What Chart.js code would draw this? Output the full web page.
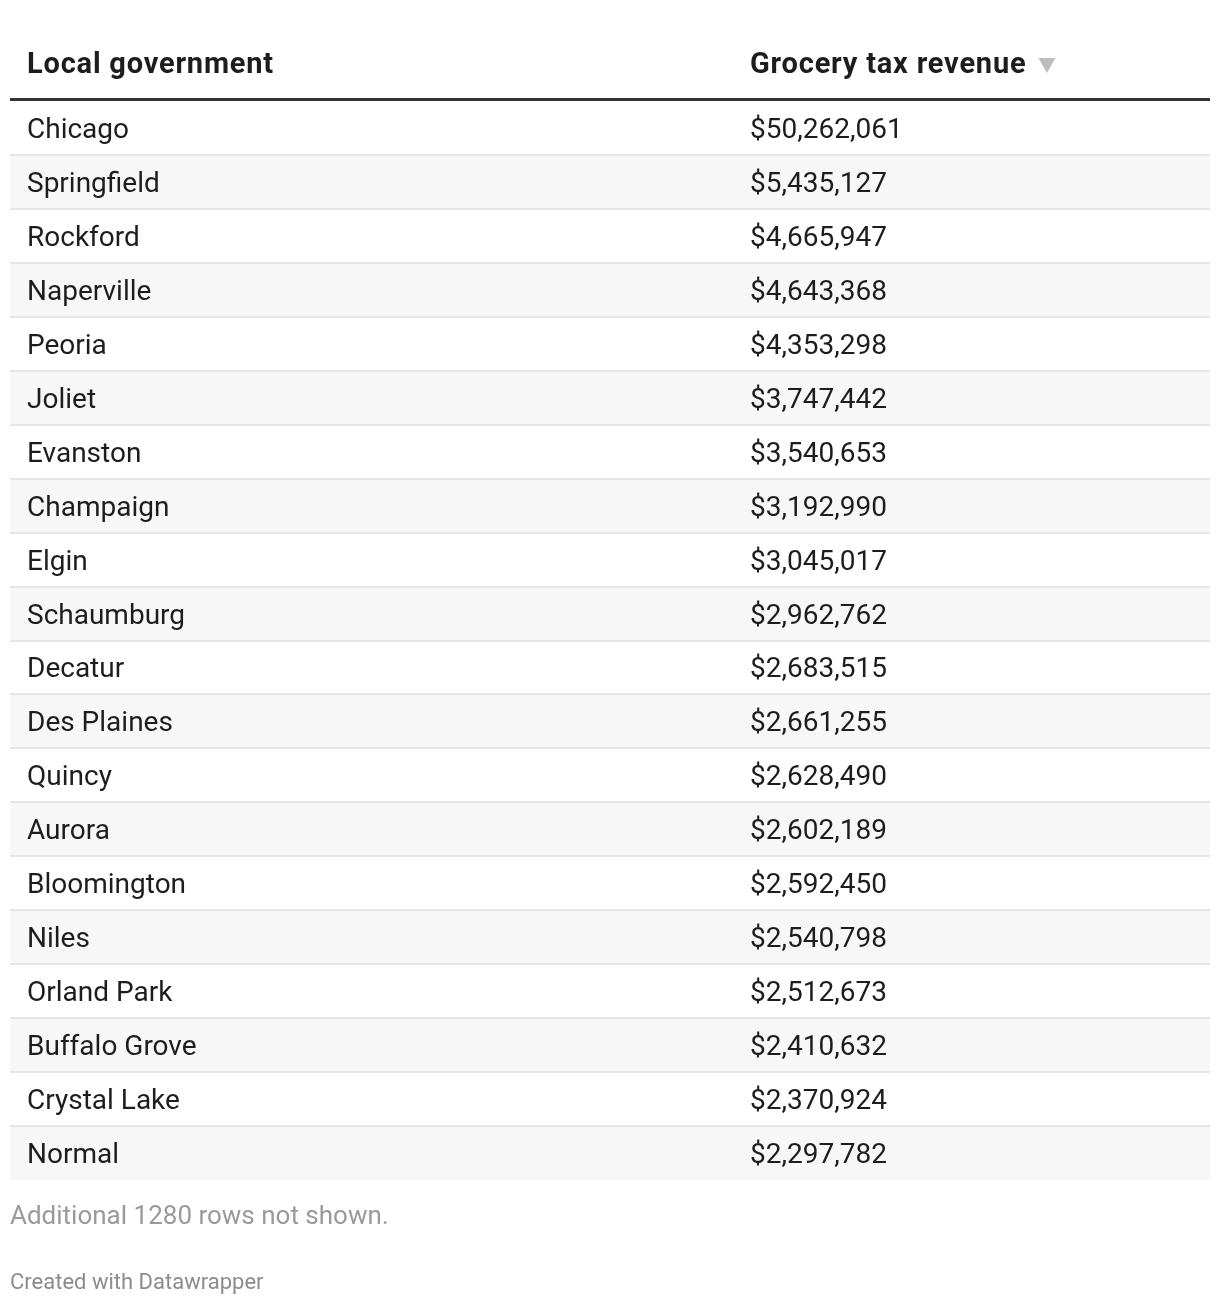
<!DOCTYPE html>
<html>
<head>
<meta charset="utf-8">
<script src="https://cdn.jsdelivr.net/npm/chart.js@4/dist/chart.umd.min.js"></script>
<style>
  html, body { margin: 0; padding: 0; background: #fff; }
  #table-chart { display: block; }
</style>
</head>
<body>
<canvas id="table-chart" width="1220" height="1306"></canvas>
<script>
// table content
const columnHeaders = ['Local government', 'Grocery tax revenue'];
const governments = [
  'Chicago', 'Springfield', 'Rockford', 'Naperville', 'Peoria',
  'Joliet', 'Evanston', 'Champaign', 'Elgin', 'Schaumburg',
  'Decatur', 'Des Plaines', 'Quincy', 'Aurora', 'Bloomington',
  'Niles', 'Orland Park', 'Buffalo Grove', 'Crystal Lake', 'Normal'
];
const revenue = [
  50262061, 5435127, 4665947, 4643368, 4353298,
  3747442, 3540653, 3192990, 3045017, 2962762,
  2683515, 2661255, 2628490, 2602189, 2592450,
  2540798, 2512673, 2410632, 2370924, 2297782
];
const notes = ['Additional 1280 rows not shown.', 'Created with Datawrapper'];

const FONT = 'Roboto, "Liberation Sans", sans-serif';
const COL1_X = 27;
const COL2_X = 750;

function formatMoney(v) {
  return '$' + v.toLocaleString('en-US');
}

const tablePlugin = {
  id: 'tableText',
  afterDatasetsDraw(chart) {
    const { ctx, chartArea, scales } = chart;
    const y = scales.y;
    ctx.save();

    // header
    ctx.fillStyle = '#1d1d1d';
    ctx.font = `bold 29px ${FONT}`;
    ctx.letterSpacing = '0.8px';
    ctx.textBaseline = 'alphabetic';
    ctx.fillText(columnHeaders[0], COL1_X, 73);
    ctx.fillText(columnHeaders[1], COL2_X, 73);
    const hw = ctx.measureText(columnHeaders[1]).width;
    ctx.letterSpacing = '0px';
    // sort arrow
    ctx.fillStyle = '#bdbdbd';
    const ax = COL2_X + hw + 12;
    ctx.beginPath();
    ctx.moveTo(ax, 58);
    ctx.lineTo(ax + 17, 58);
    ctx.lineTo(ax + 8.5, 73);
    ctx.closePath();
    ctx.fill();

    // thick header rule
    ctx.fillStyle = '#333333';
    ctx.fillRect(chartArea.left, chartArea.top - 3, chartArea.right - chartArea.left, 3);

    // row separators
    ctx.fillStyle = '#e6e6e6';
    for (let i = 0; i < governments.length - 1; i++) {
      const b = (y.getPixelForValue(i) + y.getPixelForValue(i + 1)) / 2;
      ctx.fillRect(chartArea.left, Math.round(b) - 1, chartArea.right - chartArea.left, 2);
    }

    // cells
    ctx.fillStyle = '#1d1d1d';
    ctx.font = `28px ${FONT}`;
    governments.forEach((name, i) => {
      const cy = y.getPixelForValue(i) + 10;
      ctx.fillText(name, COL1_X, cy);
      ctx.fillText(formatMoney(revenue[i]), COL2_X, cy);
    });

    // notes
    ctx.fillStyle = '#9a9a9a';
    ctx.font = `26px ${FONT}`;
    ctx.fillText(notes[0], 10, 1224);
    ctx.fillStyle = '#8c8c8c';
    ctx.font = `22px ${FONT}`;
    ctx.fillText(notes[1], 10, 1289);
    ctx.restore();
  }
};

new Chart(document.getElementById('table-chart'), {
  type: 'bar',
  data: {
    labels: governments,
    datasets: [{
      data: governments.map(() => 1),
      backgroundColor: governments.map((_, i) => i % 2 === 0 ? '#ffffff' : '#f7f7f7'),
      borderWidth: 0,
      barPercentage: 1,
      categoryPercentage: 1
    }]
  },
  options: {
    indexAxis: 'y',
    responsive: false,
    animation: false,
    layout: { padding: { top: 101, bottom: 126, left: 10, right: 10 } },
    plugins: { legend: { display: false }, tooltip: { enabled: false } },
    scales: {
      x: { display: false, min: 0, max: 1 },
      y: { display: false }
    }
  },
  plugins: [tablePlugin]
});
</script>
</body>
</html>
